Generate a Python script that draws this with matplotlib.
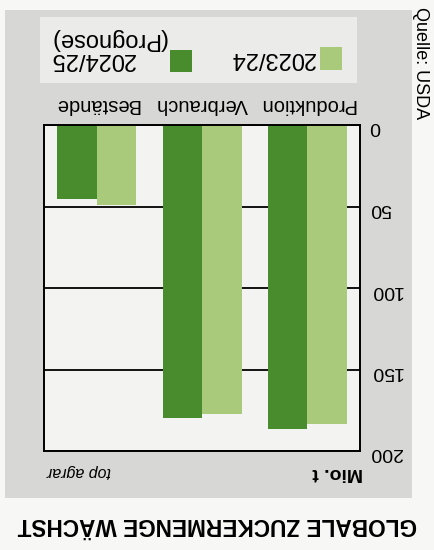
import matplotlib
matplotlib.use("Agg")
import matplotlib.pyplot as plt
from matplotlib.patches import Rectangle
import numpy as np

# data (Mio. t)
categories = ["Produktion", "Verbrauch", "Bestände"]
val_2023 = [183.3, 177.2, 48.9]
val_2024 = [186.6, 179.6, 45.2]
yticks = [0, 50, 100, 150, 200]

dark = "#488c2d"
light = "#a8ca7a"

plt.rcParams['font.family'] = ['Liberation Sans', 'DejaVu Sans']

W, H = 435, 550
fig = plt.figure(figsize=(4.35, 5.5), dpi=100)
fig.patch.set_facecolor("#f7f7f5")

# helpers: pixel position in the (upside-down) picture -> figure fraction
def fx(x):
    return x / W

def fy(y):
    return 1 - y / H

# grey panel and lighter legend box (behind the axes)
fig.patches.append(Rectangle((fx(5), fy(498)), fx(412) - fx(5), fy(10) - fy(498),
                             transform=fig.transFigure, facecolor="#d7d7d5",
                             edgecolor="none", zorder=-2))
fig.patches.append(Rectangle((fx(40), fy(83)), fx(357) - fx(40), fy(17) - fy(83),
                             transform=fig.transFigure, facecolor="#ebebea",
                             edgecolor="none", zorder=-1))

# the chart is printed upside down, so axes are flipped and text turned 180 deg
ax = fig.add_axes([fx(44), fy(451), fx(360) - fx(44), fy(125) - fy(451)])
ax.set_facecolor("#f3f3f2")

x = np.arange(len(categories))
w = 0.375
ax.bar(x - w / 2, val_2023, w, color=light, zorder=2)
ax.bar(x + w / 2, val_2024, w, color=dark, zorder=2)

ax.set_xlim(2.5, -0.5)
ax.set_ylim(200, 0)

ax.set_yticks(yticks)
ax.set_yticklabels([str(t) for t in yticks], rotation=180, fontsize=14)
ax.yaxis.tick_right()
ax.yaxis.grid(True, color="black", lw=1.3, zorder=1)
ax.set_axisbelow(True)

ax.set_xticks(x)
ax.set_xticklabels(categories, rotation=180, fontsize=14.5)
ax.xaxis.tick_top()
ax.tick_params(axis="both", length=0)
ax.tick_params(axis="y", pad=7)
ax.tick_params(axis="x", pad=8)

for s in ax.spines.values():
    s.set_linewidth(1.4)
    s.set_color("black")

# legend drawn by hand (square right of the text in the flipped picture)
fig.patches.append(Rectangle((fx(320), fy(70)), fx(342) - fx(320), fy(47) - fy(70),
                             transform=fig.transFigure, facecolor=light, edgecolor="none"))
fig.text(fx(315), fy(58), "2023/24", rotation=180, ha="right", va="center", fontsize=17)
fig.patches.append(Rectangle((fx(170), fy(72)), fx(192) - fx(170), fy(50) - fy(72),
                             transform=fig.transFigure, facecolor=dark, edgecolor="none"))
fig.text(fx(166), fy(49), "2024/25\n(Prognose)", rotation=180, ha="right", va="center",
         fontsize=17, linespacing=0.92)

# texts
fig.text(fx(363), fy(472), "Mio. t", rotation=180, ha="right", va="center",
         fontsize=14, fontweight="bold")
fig.text(fx(47), fy(471), "top agrar", rotation=180, ha="left", va="center",
         fontsize=11.5, fontstyle="italic")
fig.text(fx(417), fy(524), "GLOBALE ZUCKERMENGE WÄCHST", rotation=180, ha="right",
         va="center", fontsize=16.3, fontweight="bold")
fig.text(fx(421), fy(7), "Quelle: USDA", rotation=270, ha="center", va="top", fontsize=13)

fig.savefig("out.png", dpi=100)
